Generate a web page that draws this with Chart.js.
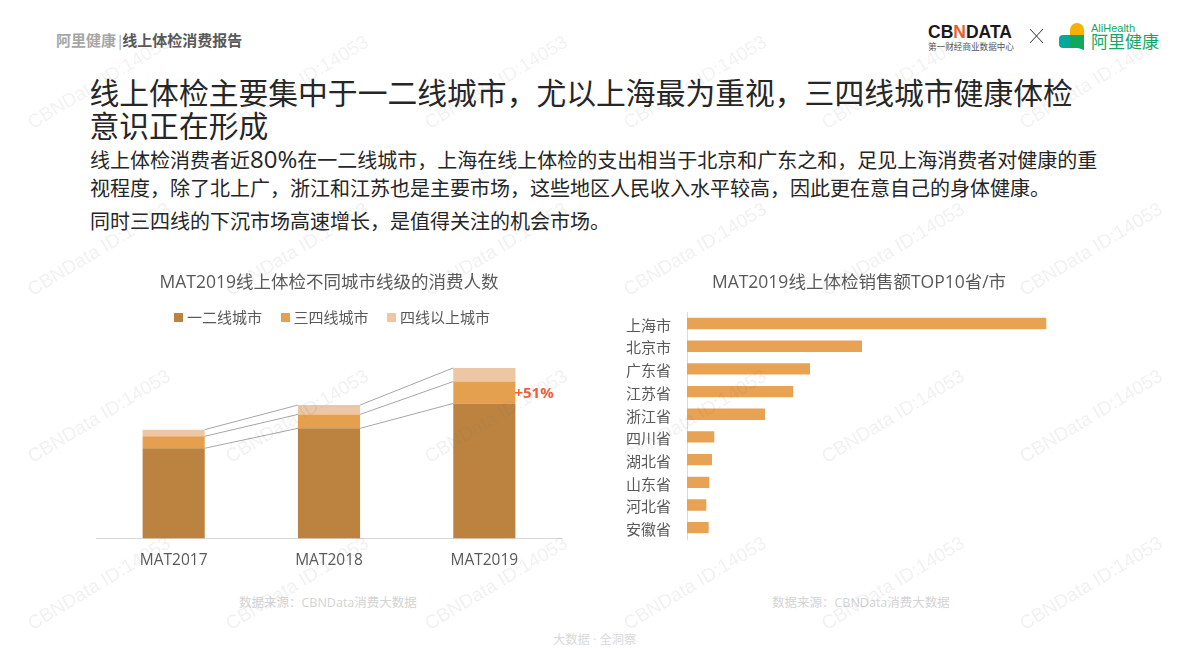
<!DOCTYPE html>
<html lang="zh">
<head>
<meta charset="utf-8">
<title>线上体检消费报告</title>
<script src="https://cdn.jsdelivr.net/npm/chart.js@4/dist/chart.umd.min.js"></script>
<style>
  html, body { margin: 0; padding: 0; background: #fff; }
  body { width: 1190px; height: 669px; position: relative; overflow: hidden; font-family: "Open Sans", "Noto Sans CJK SC", sans-serif; }
  .txt { position: absolute; white-space: nowrap; line-height: 1; }
  canvas { position: absolute; }
  .mark { position: absolute; font: 19px "Liberation Sans", sans-serif; color: rgba(120,120,120,0.1); transform: rotate(-31deg); transform-origin: left bottom; white-space: nowrap; pointer-events: none; line-height: 1; }
  svg { position: absolute; }
  #leftLegend { position: absolute; left: 174px; top: 308px; display: flex; font-size: 15px; color: #595959; line-height: 18px; white-space: nowrap; }
  #leftLegend span { display: flex; align-items: center; margin-right: 18.5px; }
  #leftLegend i { display: block; width: 9px; height: 9px; margin-right: 4px; }
</style>
</head>
<body>
  <div class="txt" style="left:56px;top:33px;font-size:15px;font-weight:700;color:#a6a6a6">阿里健康<span style="font-weight:400">|</span><span style="color:#595959;margin-left:-2px">线上体检消费报告</span></div>

  <div class="txt" style="left:89.5px;top:77.5px;font-size:29.8px;color:#262626">线上体检主要集中于一二线城市，尤以上海最为重视，三四线城市健康体检</div>
  <div class="txt" style="left:89.5px;top:111px;font-size:29.8px;color:#262626">意识正在形成</div>
  <div class="txt" style="left:90px;top:151px;font-size:20px;color:#262626">线上体检消费者近<span style="font-size:24px;line-height:0">80%</span>在一二线城市，上海在线上体检的支出相当于北京和广东之和，足见上海消费者对健康的重</div>
  <div class="txt" style="left:90px;top:179px;font-size:20px;color:#262626">视程度，除了北上广，浙江和江苏也是主要市场，这些地区人民收入水平较高，因此更在意自己的身体健康。</div>
  <div class="txt" style="left:90px;top:212px;font-size:20px;color:#262626">同时三四线的下沉市场高速增长，是值得关注的机会市场。</div>

  <!-- 右上角 logo -->
  <div class="txt" style="left:928px;top:22px;font:700 17.5px 'Liberation Sans',sans-serif;color:#1a1a1a">CB<span style="color:#e8602c">N</span>DATA</div>
  <div class="txt" style="left:928px;top:43px;font-size:8.6px;color:#555">第一财经商业数据中心</div>
  <svg style="left:1029px;top:28px" width="15" height="16"><path d="M1 1L14 15M14 1L1 15" stroke="#333" stroke-width="1" fill="none"/></svg>
  <svg style="left:1059px;top:22px" width="28" height="30">
    <path d="M11 13V8a7 7 0 0 1 14 0V13Z" fill="#f5b000"/>
    <path d="M11 13H4a4 4 0 0 0-4 4v5a4 4 0 0 0 4 4H11Z" fill="#00a99d"/>
    <path d="M11 13H25V28L19 26H11Z" fill="#10a85f"/>
  </svg>
  <div class="txt" style="left:1091px;top:22px;font:11px 'Liberation Sans',sans-serif;color:#14a868">AliHealth</div>
  <div class="txt" style="left:1091px;top:33px;font-size:17px;color:#14a868">阿里健康</div>

  <canvas id="leftChart" width="466" height="321" style="left:96px;top:262px"></canvas>
  <div id="leftLegend"></div>
  <canvas id="rightChart" width="498" height="302" style="left:610px;top:262px"></canvas>

  <div class="txt" style="left:239px;top:597px;font-size:12.5px;color:#d4d4d4">数据来源：CBNData消费大数据</div>
  <div class="txt" style="left:772px;top:597px;font-size:12.5px;color:#d4d4d4">数据来源：CBNData消费大数据</div>
  <div class="txt" style="left:553px;top:634px;font-size:12.3px;color:#d9d9d9">大数据 · 全洞察</div>

<script>
// 左图：不同城市线级的消费人数（图上量出来的相对高度）
const years = ["MAT2017", "MAT2018", "MAT2019"];
const tier12 = [90.6, 110.6, 135.6];
const tier34 = [12, 14, 22];
const tier4 = [6.7, 9.4, 13.7];
const growthLabel = "+51%";

// 右图：销售额 TOP10 省/市（相对长度）
const regions = ["上海市", "北京市", "广东省", "江苏省", "浙江省", "四川省", "湖北省", "山东省", "河北省", "安徽省"];
const regionSales = [359.3, 175, 123, 106.3, 78, 27.3, 25, 22.3, 19.3, 21.7];

// 水印的位置
const markColumns = [34, 232, 431, 630, 828, 1026];
const markRows = [132, 299, 466, 633];

const fontStack = '"Open Sans", "Noto Sans CJK SC", sans-serif';
Chart.defaults.animation = false;
Chart.defaults.font.family = fontStack;

// 柱子之间的连接线和 +51% 标注
const connectorPlugin = {
  id: "connectors",
  afterDatasetsDraw(chart) {
    const c = chart.ctx;
    c.save();
    c.strokeStyle = "#a6a6a6";
    c.lineWidth = 1;
    chart.data.datasets.forEach((ds, i) => {
      const bars = chart.getDatasetMeta(i).data;
      for (let j = 0; j < bars.length - 1; j++) {
        c.beginPath();
        c.moveTo(bars[j].x + bars[j].width / 2, bars[j].y);
        c.lineTo(bars[j + 1].x - bars[j + 1].width / 2, bars[j + 1].y);
        c.stroke();
      }
    });
    const last = chart.getDatasetMeta(1).data[2];
    c.fillStyle = "#f0603c";
    c.font = "700 15px " + fontStack;
    c.textBaseline = "middle";
    c.fillText(growthLabel, last.x + last.width / 2 - 1, last.y + 12);
    c.restore();
  }
};

const leftChart = new Chart(document.getElementById("leftChart"), {
  type: "bar",
  data: {
    labels: years,
    datasets: [
      { label: "一二线城市", data: tier12, backgroundColor: "#bc8340" },
      { label: "三四线城市", data: tier34, backgroundColor: "#e5a04f" },
      { label: "四线以上城市", data: tier4, backgroundColor: "#edc6a6" }
    ]
  },
  options: {
    responsive: false,
    maintainAspectRatio: false,
    layout: { padding: { bottom: 0 } },
    datasets: { bar: { categoryPercentage: 1, barPercentage: 0.4 } },
    scales: {
      x: {
        stacked: true,
        grid: { display: false, drawTicks: false },
        border: { color: "#d9d9d9" },
        ticks: { color: "#595959", font: { size: 15.5 }, padding: 13 }
      },
      y: { stacked: true, display: false, min: 0, max: 229 }
    },
    plugins: {
      title: {
        display: true,
        text: "MAT2019线上体检不同城市线级的消费人数",
        color: "#595959",
        font: { size: 17.5, weight: "normal", lineHeight: 1 },
        padding: { top: 12, bottom: 19 }
      },
      legend: { display: false },
      tooltip: { enabled: false }
    }
  },
  plugins: [connectorPlugin]
});

// 图例：方块和文字的间距库里的 legend 调不了，用 HTML 从数据集生成
const legendBox = document.getElementById("leftLegend");
leftChart.data.datasets.forEach(ds => {
  const item = document.createElement("span");
  const swatch = document.createElement("i");
  swatch.style.background = ds.backgroundColor;
  item.appendChild(swatch);
  item.appendChild(document.createTextNode(ds.label));
  legendBox.appendChild(item);
});

new Chart(document.getElementById("rightChart"), {
  type: "bar",
  data: {
    labels: regions,
    datasets: [{ label: "销售额", data: regionSales, backgroundColor: "#e8a253" }]
  },
  options: {
    indexAxis: "y",
    responsive: false,
    maintainAspectRatio: false,
    datasets: { bar: { categoryPercentage: 1, barPercentage: 0.5 } },
    scales: {
      x: { display: false, min: 0, max: 421 },
      y: {
        grid: { display: false, drawTicks: false },
        border: { color: "#d9d9d9" },
        ticks: { color: "#595959", font: { size: 15 }, padding: 16, autoSkip: false, labelOffset: 3 },
        afterFit(scale) { scale.width = 77; }
      }
    },
    plugins: {
      title: {
        display: true,
        text: "MAT2019线上体检销售额TOP10省/市",
        color: "#595959",
        font: { size: 17.5, weight: "normal", lineHeight: 1 },
        padding: { top: 12, bottom: 20.7 }
      },
      legend: { display: false },
      tooltip: { enabled: false }
    }
  }
});

// 铺水印
markRows.forEach(y => {
  markColumns.forEach(x => {
    const m = document.createElement("div");
    m.className = "mark";
    m.textContent = "CBNData ID:14053";
    m.style.left = x + "px";
    m.style.top = (y - 19) + "px";
    document.body.appendChild(m);
  });
});
</script>
</body>
</html>
